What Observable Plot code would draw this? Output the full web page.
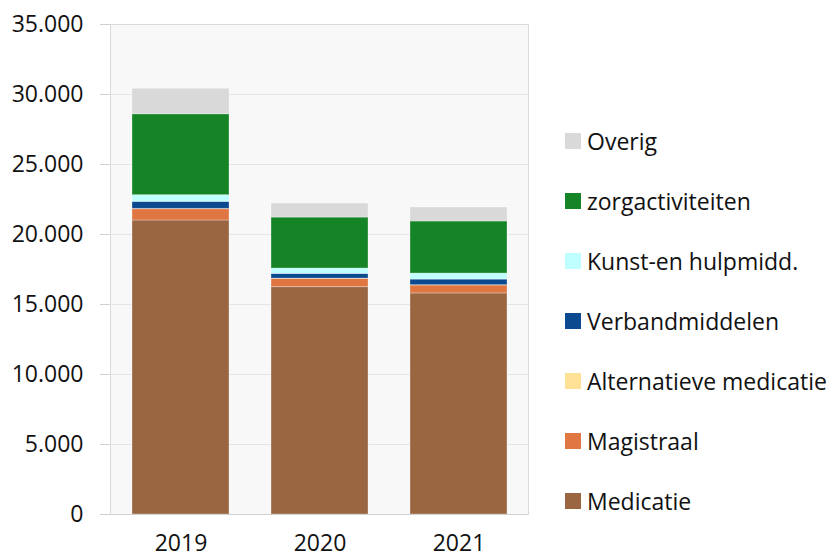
<!DOCTYPE html>
<html>
<head>
<meta charset="utf-8">
<script src="https://cdn.jsdelivr.net/npm/d3@7"></script>
<script src="https://cdn.jsdelivr.net/npm/@observablehq/plot@0.6"></script>
<style>
  html, body { margin: 0; padding: 0; background: #fff; }
  #wrap { position: relative; width: 838px; height: 559px; overflow: hidden; font-family: "Open Sans", sans-serif; }
  #legend { position: absolute; left: 0; top: 0; }
  .item { position: absolute; display: flex; align-items: center; white-space: nowrap; font-size: 23px; color: #111; height: 30px; }
  .sw { width: 16px; height: 16px; margin-right: 6px; }
</style>
</head>
<body>
<div id="wrap"><div id="legend"></div></div>
<script>
const years = ["2019", "2020", "2021"];
const categories = ["Medicatie", "Magistraal", "Alternatieve medicatie", "Verbandmiddelen", "Kunst-en hulpmidd.", "zorgactiviteiten", "Overig"];
const colors = ["#9A6642", "#E07641", "#FFE196", "#0B4A8F", "#BFFFFF", "#158427", "#D9D9D9"];
const medicatie = [21000, 16240, 15790];
const magistraal = [810, 590, 570];
const alternatief = [20, 20, 20];
const verband = [500, 335, 400];
const kunst = [480, 385, 430];
const zorg = [5780, 3640, 3720];
const overig = [1820, 1000, 1000];
const yTicks = [0, 5000, 10000, 15000, 20000, 25000, 30000, 35000];
const legendOrder = ["Overig", "zorgactiviteiten", "Kunst-en hulpmidd.", "Verbandmiddelen", "Alternatieve medicatie", "Magistraal", "Medicatie"];

const series = [medicatie, magistraal, alternatief, verband, kunst, zorg, overig];
const data = [];
categories.forEach((c, i) => years.forEach((y, j) => data.push({year: y, category: c, value: series[i][j]})));

const fmt = d => d3.format(",")(d).replace(/,/g, ".");

const chart = Plot.plot({
  width: 838,
  height: 559,
  marginLeft: 110,
  marginRight: 310,
  marginTop: 24,
  marginBottom: 45,
  style: {fontFamily: "Open Sans, sans-serif", fontSize: "23px", color: "#111", background: "transparent"},
  x: {domain: years, padding: 0.305, paddingOuter: 0.15, label: null},
  y: {domain: [0, 35000], label: null},
  color: {domain: categories, range: colors},
  marks: [
    Plot.frame({fill: "#F8F8F8", stroke: "#DADADA"}),
    Plot.ruleY(yTicks.slice(1, -1), {stroke: "#E6E6E6", strokeWidth: 1}),
    Plot.barY(data, Plot.stackY({x: "year", y: "value", fill: "category", order: categories, stroke: "#fff", strokeOpacity: 0.3, strokeWidth: 1})),
    Plot.axisY({ticks: yTicks, tickFormat: fmt, tickSize: 10, tickPadding: 17, stroke: "#D0D0D0", fill: "#111", fontSize: 23, label: null}),
    Plot.axisX({tickSize: 0, tickPadding: 20, fill: "#111", fontSize: 23, label: null}),
    Plot.ruleY([0], {stroke: "#D0D0D0"})
  ]
});
document.getElementById("wrap").prepend(chart);

const legend = document.getElementById("legend");
legendOrder.forEach((c, i) => {
  const div = document.createElement("div");
  div.className = "item";
  div.style.left = "565px";
  div.style.top = (141 + 60 * i - 15) + "px";
  const sw = document.createElement("span");
  sw.className = "sw";
  sw.style.background = colors[categories.indexOf(c)];
  const t = document.createElement("span");
  t.textContent = c;
  div.appendChild(sw);
  div.appendChild(t);
  legend.appendChild(div);
});
</script>
</body>
</html>
